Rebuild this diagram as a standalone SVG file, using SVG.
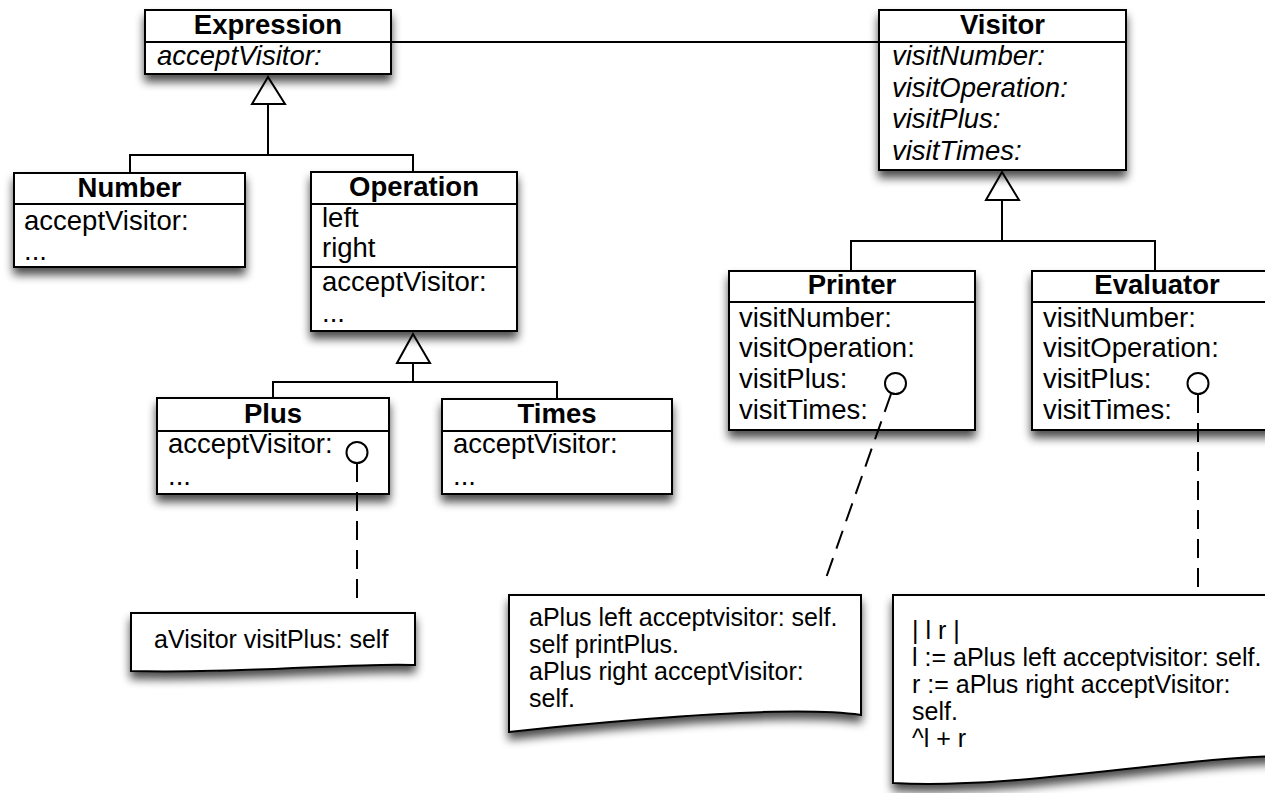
<svg xmlns="http://www.w3.org/2000/svg" width="1265" height="793" viewBox="0 0 1265 793">
<defs>
<filter id="sh" x="-15%" y="-15%" width="130%" height="150%">
<feGaussianBlur in="SourceAlpha" stdDeviation="5"/>
<feOffset dx="0" dy="7" result="b"/>
<feComponentTransfer><feFuncA type="linear" slope="0.7"/></feComponentTransfer>
<feMerge><feMergeNode/><feMergeNode in="SourceGraphic"/></feMerge>
</filter>
<style>
.box{fill:#fff;stroke:#000;stroke-width:2;filter:url(#sh)}
.div{stroke:#000;stroke-width:2;fill:none}
.t{font-family:"Liberation Sans",Arial,Helvetica,sans-serif;font-size:27.5px;fill:#000}
.b{font-weight:bold;text-anchor:middle}
.i{font-style:italic}
.n{font-family:"Liberation Sans",Arial,Helvetica,sans-serif;font-size:25px;fill:#000}
.ln{stroke:#000;stroke-width:2;fill:none}
.tri{fill:#fff;stroke:#000;stroke-width:2}
.dash{stroke:#000;stroke-width:2;fill:none;stroke-dasharray:19 10}
.circ{fill:#fff;stroke:#000;stroke-width:2}
</style>
</defs>
<rect width="1265" height="793" fill="#fff"/>

<g id="connectors">
<line class="ln" x1="391" y1="42" x2="879" y2="42"/>
<polyline class="ln" points="130,173 130,155 413,155 413,172"/>
<line class="ln" x1="268" y1="104" x2="268" y2="155"/>
<polygon class="tri" points="268,77 252,104 285,104"/>
<polyline class="ln" points="273,398 273,382 557,382 557,399"/>
<line class="ln" x1="413" y1="363" x2="413" y2="382"/>
<polygon class="tri" points="413,334 397,363 430,363"/>
<polyline class="ln" points="851,271 851,241 1155,241 1155,271"/>
<line class="ln" x1="1002" y1="200" x2="1002" y2="241"/>
<polygon class="tri" points="1002,172 986,200 1019,200"/>
</g>

<g id="Expression">
<rect class="box" x="145" y="10" width="246" height="64"/>
<line class="div" x1="145" y1="42" x2="391" y2="42"/>
<text class="t b" x="268" y="34">Expression</text>
<text class="t i" x="157" y="65">acceptVisitor:</text>
</g>

<g id="Number">
<rect class="box" x="14" y="173" width="231" height="94"/>
<line class="div" x1="14" y1="204" x2="245" y2="204"/>
<text class="t b" x="129.5" y="197">Number</text>
<text class="t" x="24" y="230">acceptVisitor:</text>
<text class="t" x="24" y="260">...</text>
</g>

<g id="Operation">
<rect class="box" x="311" y="172" width="206" height="159"/>
<line class="div" x1="311" y1="204" x2="517" y2="204"/>
<line class="div" x1="311" y1="267" x2="517" y2="267"/>
<text class="t b" x="414" y="196">Operation</text>
<text class="t" x="322" y="227">left</text>
<text class="t" x="322" y="257">right</text>
<text class="t" x="322" y="291">acceptVisitor:</text>
<text class="t" x="322" y="322">...</text>
</g>

<g id="Plus">
<rect class="box" x="157" y="398" width="232" height="96"/>
<line class="div" x1="157" y1="431" x2="389" y2="431"/>
<text class="t b" x="273" y="423">Plus</text>
<text class="t" x="168" y="453">acceptVisitor:</text>
<text class="t" x="168" y="485">...</text>
<circle class="circ" cx="357" cy="452.5" r="10.5"/>
</g>

<g id="Times">
<rect class="box" x="442" y="399" width="230" height="95"/>
<line class="div" x1="442" y1="431" x2="672" y2="431"/>
<text class="t b" x="557" y="423">Times</text>
<text class="t" x="453" y="453">acceptVisitor:</text>
<text class="t" x="453" y="485">...</text>
</g>

<g id="Visitor">
<rect class="box" x="879" y="10" width="247" height="160"/>
<line class="div" x1="879" y1="42" x2="1126" y2="42"/>
<text class="t b" x="1002.5" y="34">Visitor</text>
<text class="t i" x="892" y="65">visitNumber:</text>
<text class="t i" x="892" y="97">visitOperation:</text>
<text class="t i" x="892" y="128">visitPlus:</text>
<text class="t i" x="892" y="160">visitTimes:</text>
</g>

<g id="Printer">
<rect class="box" x="729" y="271" width="246" height="159"/>
<line class="div" x1="729" y1="302" x2="975" y2="302"/>
<text class="t b" x="852" y="294">Printer</text>
<text class="t" x="739" y="327">visitNumber:</text>
<text class="t" x="739" y="357">visitOperation:</text>
<text class="t" x="739" y="388">visitPlus:</text>
<text class="t" x="739" y="419">visitTimes:</text>
<circle class="circ" cx="895.5" cy="383.5" r="10.5"/>
</g>

<g id="Evaluator">
<rect class="box" x="1032" y="271" width="250" height="159"/>
<line class="div" x1="1032" y1="302" x2="1282" y2="302"/>
<text class="t b" x="1157" y="294">Evaluator</text>
<text class="t" x="1043" y="327">visitNumber:</text>
<text class="t" x="1043" y="357">visitOperation:</text>
<text class="t" x="1043" y="388">visitPlus:</text>
<text class="t" x="1043" y="419">visitTimes:</text>
<circle class="circ" cx="1198" cy="383.5" r="10.5"/>
</g>

<g id="NotePlus">
<path class="box" d="M131,613 H415 V665 C360,662 250,674 131,671 Z"/>
<text class="n" x="154" y="648">aVisitor visitPlus: self</text>
</g>

<g id="NotePrinter">
<path class="box" d="M509,595 H861 V715 C790,705 640,718 509,732 Z"/>
<text class="n" x="529" y="626">aPlus left acceptvisitor: self.</text>
<text class="n" x="529" y="653">self printPlus.</text>
<text class="n" x="529" y="680">aPlus right acceptVisitor:</text>
<text class="n" x="529" y="707">self.</text>
</g>

<g id="NoteEvaluator">
<path class="box" d="M893,595 H1290 V756 C1180,756 1020,790 893,783 Z"/>
<text class="n" x="912" y="639">| l r |</text>
<text class="n" x="912" y="666">l := aPlus left acceptvisitor: self.</text>
<text class="n" x="912" y="693">r := aPlus right acceptVisitor:</text>
<text class="n" x="912" y="720">self.</text>
<text class="n" x="912" y="747">^l + r</text>
</g>

<g id="note-links">
<line class="dash" x1="357" y1="463" x2="357" y2="601"/>
<line class="dash" x1="891" y1="394" x2="826" y2="578"/>
<line class="dash" x1="1198" y1="394" x2="1198" y2="589"/>
</g>
</svg>
